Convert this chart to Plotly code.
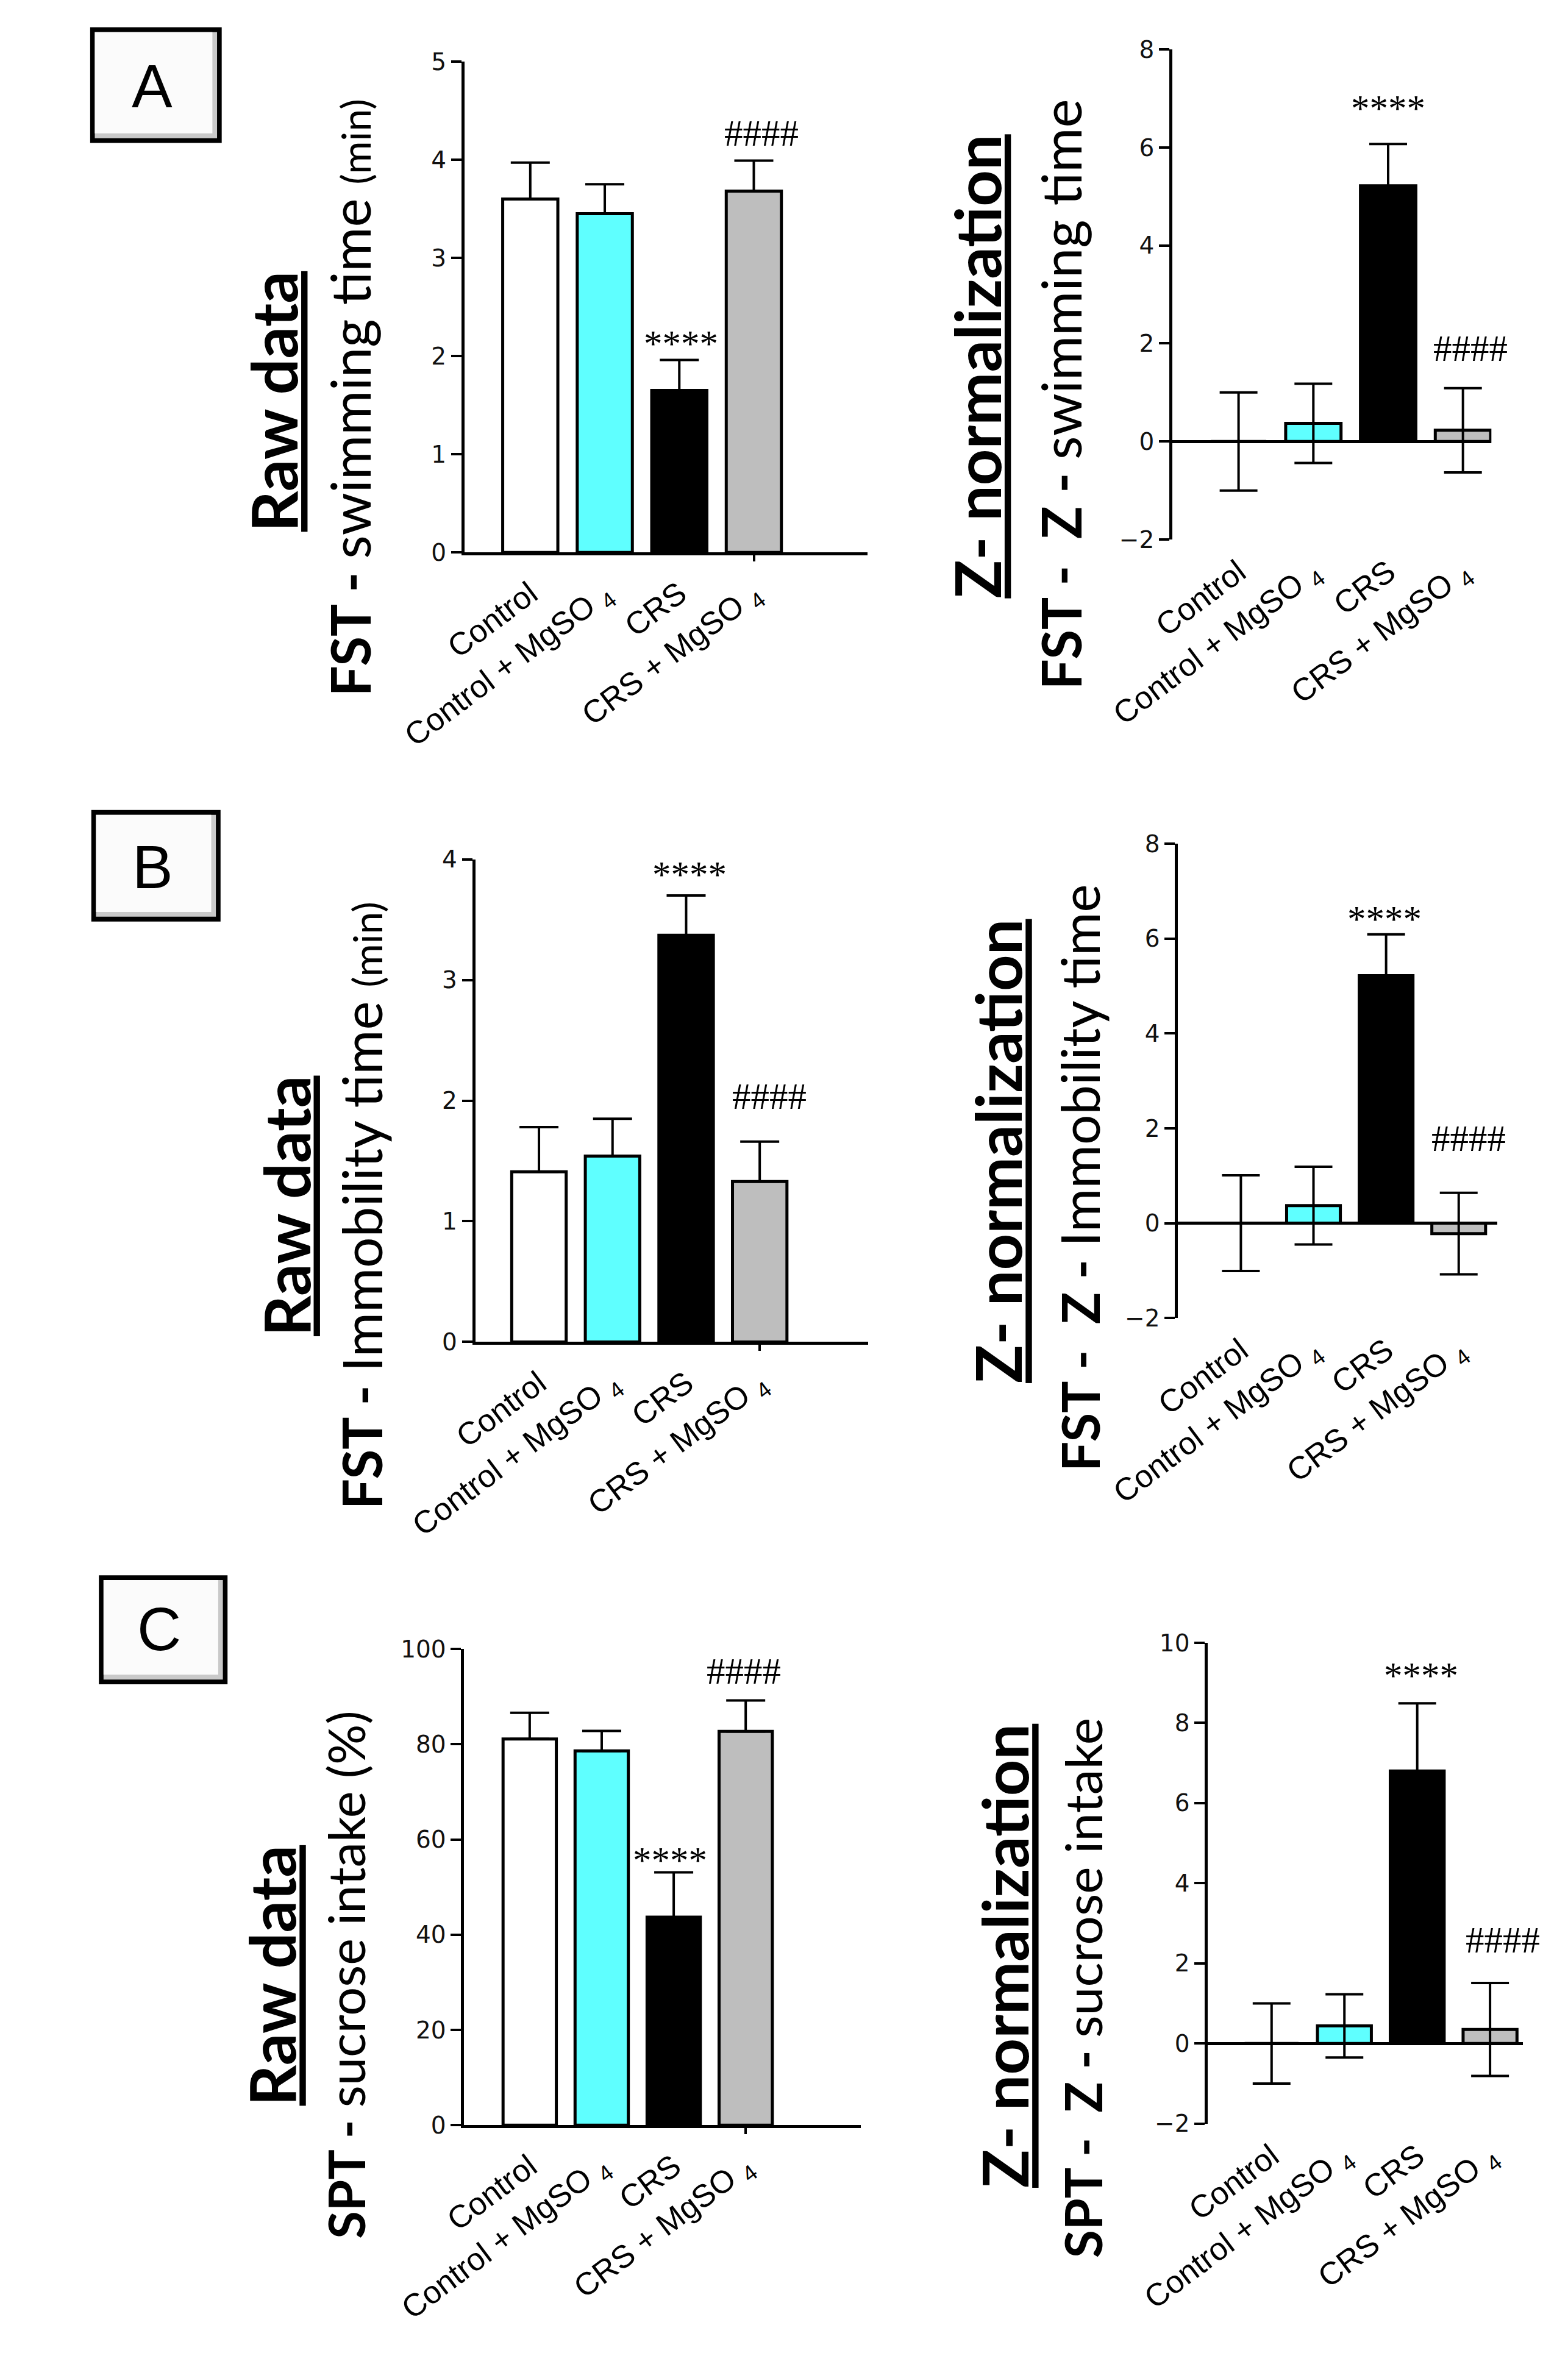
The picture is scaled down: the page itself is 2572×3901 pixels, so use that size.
import plotly.graph_objects as go

W, H = 2572, 3901

# ---------------- data ----------------
categories = ["Control", "Control + MgSO <sub>4</sub>", "CRS", "CRS + MgSO <sub>4</sub>"]
bar_colors = ["#FFFFFF", "#5FFFFF", "#000000", "#BEBEBE"]

fst_swim_raw = [3.60, 3.45, 1.65, 3.68]
fst_swim_raw_sem = [0.37, 0.30, 0.31, 0.31]
fst_swim_z = [0.0, 0.37, 5.22, 0.23]
fst_swim_z_sem = [1.0, 0.81, 0.85, 0.86]

fst_immob_raw = [1.41, 1.54, 3.37, 1.33]
fst_immob_raw_sem = [0.37, 0.31, 0.33, 0.33]
fst_immob_z = [0.0, 0.37, 5.22, -0.22]
fst_immob_z_sem = [1.01, 0.82, 0.87, 0.86]

spt_raw = [81.1, 78.6, 43.7, 82.7]
spt_raw_sem = [5.5, 4.2, 9.4, 6.5]
spt_z = [0.0, 0.44, 6.80, 0.35]
spt_z_sem = [1.0, 0.79, 1.69, 1.16]

sig_swim_raw = ["", "", "****", "####"]
sig_swim_z = ["", "", "****", "####"]
sig_immob_raw = ["", "", "****", "####"]
sig_immob_z = ["", "", "****", "####"]
sig_spt_raw = ["", "", "****", "####"]
sig_spt_z = ["", "", "****", "####"]

# ---------------- layout helpers (pixel geometry) ----------------
def px(x):
    return x / W

def py(y):
    return 1 - y / H

panels = [
    dict(vals=fst_swim_raw, sem=fst_swim_raw_sem, sig=sig_swim_raw, z=False,
         xdom=(668, 1360), xr=(-0.883, 4.523), ydom=(71.7, 886.5), yr=(0, 5), dtick=1,
         sigoff=[0, 0, 37, 45], sigdx=[0, 0, 3, 12]),
    dict(vals=fst_swim_z, sem=fst_swim_z_sem, sig=sig_swim_z, z=True,
         xdom=(1884, 2432), xr=(-0.885, 3.38), ydom=(51.8, 865), yr=(-2, 8), dtick=2,
         sigoff=[0, 0, 69, 65], sigdx=[0, 0, 0, 12]),
    dict(vals=fst_immob_raw, sem=fst_immob_raw_sem, sig=sig_immob_raw, z=False,
         xdom=(686.6, 1361), xr=(-0.865, 4.47), ydom=(1395.7, 2196.8), yr=(0, 4), dtick=1,
         sigoff=[0, 0, 44, 74], sigdx=[0, 0, 6, 16]),
    dict(vals=fst_immob_z, sem=fst_immob_z_sem, sig=sig_immob_z, z=True,
         xdom=(1893.8, 2442), xr=(-0.865, 3.53), ydom=(1370, 2157), yr=(-2, 8), dtick=2,
         sigoff=[0, 0, 35, 89], sigdx=[0, 0, -3, 16]),
    dict(vals=spt_raw, sem=spt_raw_sem, sig=sig_spt_raw, z=False,
         xdom=(667.5, 1349), xr=(-0.91, 4.6), ydom=(2706.4, 3496.6), yr=(0, 100), dtick=20,
         sigoff=[0, 0, 30, 48], sigdx=[0, 0, -6, -3]),
    dict(vals=spt_z, sem=spt_z_sem, sig=sig_spt_z, z=True,
         xdom=(1945, 2486), xr=(-0.875, 3.45), ydom=(2696, 3494), yr=(-2, 10), dtick=2,
         sigoff=[0, 0, 56, 70], sigdx=[0, 0, 6, 21]),
]

fig = go.Figure()
annotations = []
shapes = []
layout = dict(
    width=W, height=H, margin=dict(l=0, r=0, t=0, b=0),
    paper_bgcolor="white", plot_bgcolor="rgba(0,0,0,0)", showlegend=False,
)

positions = [0, 1, 2, 3]
extra_axis = 7
for i, p in enumerate(panels, start=1):
    xa = "x" if i == 1 else f"x{i}"
    ya = "y" if i == 1 else f"y{i}"
    xkey = "xaxis" if i == 1 else f"xaxis{i}"
    ykey = "yaxis" if i == 1 else f"yaxis{i}"
    if p["z"]:
        err = dict(type="data", array=p["sem"], symmetric=True,
                   color="black", thickness=4, width=31)
    else:
        err = dict(type="data", array=p["sem"], arrayminus=[0] * 4, symmetric=False,
                   color="black", thickness=4, width=32)
    fig.add_trace(go.Bar(
        x=positions, y=p["vals"], width=0.74, xaxis=xa, yaxis=ya,
        marker=dict(color=bar_colors, line=dict(color="black", width=5)),
        error_y=err, hoverinfo="skip",
    ))
    layout[xkey] = dict(
        domain=[px(p["xdom"][0]), px(p["xdom"][1])], range=list(p["xr"]),
        anchor=ya, showline=not p["z"], linecolor="black", linewidth=5,
        showgrid=False, zeroline=False, ticks="",
        tickvals=positions, ticktext=categories, tickangle=-37,
        tickfont=dict(family="Liberation Sans, Arial", size=52, color="black"),
        ticklabelstandoff=12, fixedrange=True,
    )
    layout[ykey] = dict(
        domain=[py(p["ydom"][1]), py(p["ydom"][0])], range=list(p["yr"]),
        anchor=xa, showline=True, linecolor="black", linewidth=5,
        showgrid=False, zeroline=p["z"], zerolinecolor="black", zerolinewidth=5,
        ticks="outside", ticklen=17, tickwidth=4, tickcolor="black",
        dtick=p["dtick"], tick0=0,
        tickfont=dict(family="DejaVu Sans", size=39, color="#111111"),
        fixedrange=True,
    )
    if not p["z"]:
        # single tick mark under the last group (as in the original graphic)
        xa2 = f"x{extra_axis}"
        fig.add_trace(go.Scatter(x=[positions[3]], y=[p["yr"][0]], xaxis=xa2, yaxis=ya,
                                 mode="markers", marker=dict(opacity=0), hoverinfo="skip"))
        layout[f"xaxis{extra_axis}"] = dict(
            domain=[px(p["xdom"][0]), px(p["xdom"][1])], range=list(p["xr"]),
            anchor=ya, overlaying=xa, showline=False, showgrid=False, zeroline=False,
            ticks="outside", ticklen=14, tickwidth=4, tickcolor="black",
            tickvals=[positions[3]], showticklabels=False, fixedrange=True,
        )
        extra_axis += 1
    for k in range(4):
        if p["sig"][k]:
            top = p["vals"][k] + p["sem"][k]
            star = "*" in p["sig"][k]
            annotations.append(dict(
                xref=xa, yref=ya, x=positions[k], y=top, text=p["sig"][k],
                showarrow=False, xanchor="center", yanchor="middle",
                yshift=p["sigoff"][k] - (10 if star else 0), xshift=p["sigdx"][k],
                font=dict(family="Liberation Serif", size=61, color="black"),
            ))

# ---------------- titles ----------------
title_font = "Lato, Carlito, Calibri, Noto Sans"
titles = [
    ("<b><u>Raw data</u></b>", 339, 636, 104),
    ("<b>FST - </b>swimming time <span style='font-size:66px'>(min)</span>", 471, 630, 89),
    ("<b><u>Z- normalization</u></b>", 1547, 578, 104),
    ("<b>FST -  Z - </b>swimming time", 1692, 624, 89),
    ("<b><u>Raw data</u></b>", 360, 1971, 104),
    ("<b>FST - </b>Immobility time <span style='font-size:66px'>(min)</span>", 490, 1970, 89),
    ("<b><u>Z- normalization</u></b>", 1583, 1880, 104),
    ("<b>FST -  Z - </b>Immobility time", 1725, 1924, 87),
    ("<b><u>Raw data</u></b>", 336, 3248, 104),
    ("<b>SPT - </b>sucrose intake (%)", 463, 3247, 83),
    ("<b><u>Z- normalization</u></b>", 1595, 3216, 104),
    ("<b>SPT -  Z - </b>sucrose intake", 1729, 3269, 84),
]
for txt, cx, cy, fs in titles:
    annotations.append(dict(
        xref="paper", yref="paper", x=px(cx), y=py(cy), text=txt, textangle=-90,
        showarrow=False, xanchor="center", yanchor="middle",
        font=dict(family=title_font, size=fs, color="black"),
    ))

# ---------------- panel letter boxes ----------------
boxes = [("A", 25, 15, 251, 207, 131, 112),
         ("B", 27, 1314, 249, 1499, 132, 1408),
         ("C", 40, 2584, 261, 2765, 143, 2673)]
for letter, x0, y0, x1, y1, cx, cy in boxes:
    shapes.append(dict(type="rect", xref="paper", yref="paper",
                       x0=px(x0), x1=px(x1), y0=py(y1), y1=py(y0),
                       fillcolor="black", line=dict(width=0)))
    shapes.append(dict(type="rect", xref="paper", yref="paper",
                       x0=px(x0 + 8), x1=px(x1 - 8), y0=py(y1 - 8), y1=py(y0 + 8),
                       fillcolor="#c9c9c9", line=dict(width=0)))
    shapes.append(dict(type="rect", xref="paper", yref="paper",
                       x0=px(x0 + 8), x1=px(x1 - 16), y0=py(y1 - 16), y1=py(y0 + 8),
                       fillcolor="#fbfbfb", line=dict(width=0)))
    annotations.append(dict(
        xref="paper", yref="paper", x=px(cx), y=py(cy), text=letter,
        showarrow=False, xanchor="center", yanchor="middle",
        font=dict(family="Liberation Sans, Arial", size=100, color="black"),
    ))

layout["annotations"] = annotations
layout["shapes"] = shapes
fig.update_layout(**layout)
fig.write_html("out.html")
